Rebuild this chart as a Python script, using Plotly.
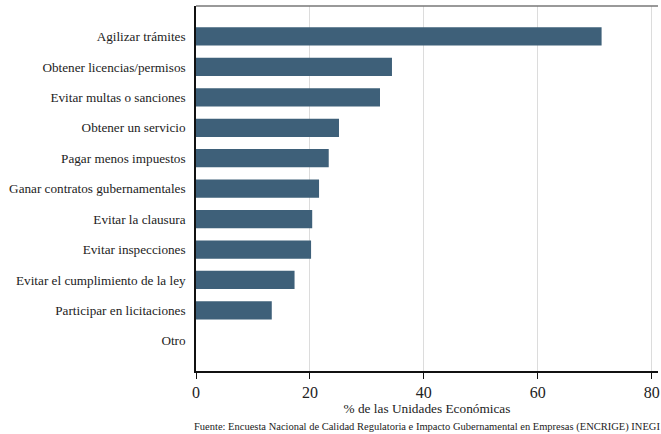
import plotly.graph_objects as go

categories = ["Agilizar trámites", "Obtener licencias/permisos", "Evitar multas o sanciones",
              "Obtener un servicio", "Pagar menos impuestos", "Ganar contratos gubernamentales",
              "Evitar la clausura", "Evitar inspecciones", "Evitar el cumplimiento de la ley",
              "Participar en licitaciones", "Otro"]
values = [71.2, 34.4, 32.3, 25.1, 23.3, 21.6, 20.4, 20.2, 17.3, 13.3, 0.0]
x_ticks = [0, 20, 40, 60, 80]

serif = "Liberation Serif, Times New Roman, serif"

fig = go.Figure(go.Bar(
    x=values, y=categories, orientation="h", width=0.6,
    marker=dict(color="#3e6079", line=dict(color="#6f8ba0", width=0)),
))

fig.update_layout(
    width=661, height=434,
    margin=dict(l=196, r=3, t=6, b=63),
    paper_bgcolor="white", plot_bgcolor="white",
    showlegend=False,
    font=dict(family=serif, color="#222"),
    xaxis=dict(range=[0, 81.1], tickvals=x_ticks, ticks="outside", ticklen=6, tickcolor="#111",
               automargin=False,
               showline=True, linecolor="#111", linewidth=1.5, showgrid=True, gridcolor="#dcdcdc",
               gridwidth=1, zeroline=False, tickfont=dict(size=16, family=serif, color="#222"),
               title=dict(text="% de las Unidades Económicas", font=dict(size=13.3, family=serif),
                          standoff=2)),
    yaxis=dict(categoryorder="array", categoryarray=categories, autorange=False, range=[10.99, -1.0],
               automargin=False,
               showline=True, linecolor="#111", linewidth=1.5, ticks="", showgrid=False,
               ticklabelstandoff=6, tickfont=dict(size=13.2, family=serif, color="#222")),
    shapes=[dict(type="line", xref="paper", yref="paper", x0=0, x1=1, y0=1, y1=1,
                 line=dict(color="#777", width=1.5))],
    annotations=[dict(text="Fuente: Encuesta Nacional de Calidad Regulatoria e Impacto Gubernamental en Empresas (ENCRIGE) INEGI",
                      xref="paper", yref="paper", x=0.5, y=0, yshift=-56, showarrow=False,
                      yanchor="middle", font=dict(size=10.5, family=serif, color="#222"))],
)

fig.write_html("out.html", config={"displayModeBar": False},
               post_script="document.body.style.margin='0';")
